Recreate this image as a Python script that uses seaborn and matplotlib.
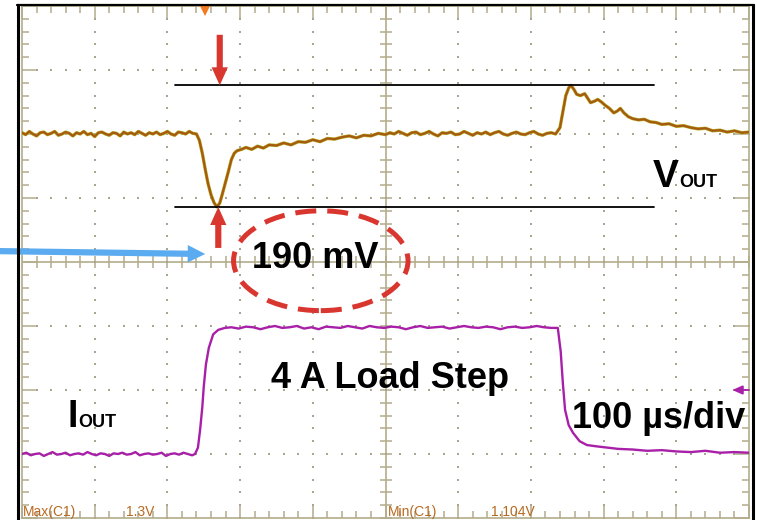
import matplotlib
matplotlib.use("Agg")
import numpy as np
import pandas as pd
import matplotlib.pyplot as plt
from matplotlib.patches import Ellipse
from matplotlib.lines import Line2D
import seaborn as sns

# Scope settings: 100 µs/div over 10 divisions, 8 vertical divisions
TIME_PER_DIV_US = 100
N_XDIV, N_YDIV = 10, 8
VOUT_MV_PER_DIV = 100

# VOUT trace (time in µs, position in divisions)
vout_t = (list(range(0, 241, 5)) +
          [244, 248, 252, 256, 260, 264, 268, 272, 276, 280, 284, 288, 292, 296,
           302, 308, 316, 324, 332, 340, 350, 360, 370, 380, 390, 400, 410, 420,
           430, 440, 450, 460, 470, 480, 490] +
          list(range(500, 737, 6)) +
          [740, 744, 748, 752, 755, 759, 763, 768, 774, 778, 782, 787, 792, 797,
           802, 808, 814, 819, 823, 828, 834, 840, 848, 856, 864, 872, 880, 890,
           900, 910, 920, 930, 940, 950, 960, 970, 980, 990, 1000])
vout_div = [2.02, 1.99, 2.04, 2.00, 1.97, 2.02, 2.03, 1.99, 2.01, 2.04,
            1.98, 2.00, 2.03, 2.01, 1.97, 2.02, 2.00, 2.04, 1.99, 2.01,
            1.96, 2.02, 2.03, 2.00, 1.98, 2.02, 2.01, 1.97, 2.03, 2.00,
            2.02, 1.99, 2.04, 2.01, 1.98, 2.02, 2.00, 2.03, 1.99, 2.01,
            2.04, 2.00, 1.98, 2.03, 2.02, 2.00, 2.04, 2.01, 2.00,
            1.90, 1.70, 1.45, 1.22, 1.05, 0.93, 0.86, 0.92, 1.08, 1.25, 1.42, 1.60, 1.70,
            1.74, 1.76, 1.79, 1.76, 1.81, 1.78, 1.83, 1.82, 1.86, 1.83, 1.88, 1.87, 1.91,
            1.88, 1.93, 1.92, 1.95, 1.97, 1.94, 1.98, 1.97, 2.01,
            1.99, 2.02, 2.00, 2.04, 2.01, 1.98, 2.02, 2.03, 1.99, 2.01,
            2.04, 2.00, 1.97, 2.02, 2.01, 2.03, 1.99, 2.00, 2.04, 2.01,
            1.98, 2.02, 2.00, 2.03, 1.99, 2.02, 2.04, 2.00, 1.98, 2.01,
            2.03, 2.00, 1.99, 2.02, 2.04, 2.00, 1.98, 2.01, 2.02, 2.00,
            2.10, 2.35, 2.60, 2.72, 2.76, 2.70, 2.62, 2.60, 2.63, 2.56, 2.49, 2.51, 2.54,
            2.50, 2.45, 2.40, 2.33, 2.36, 2.40, 2.33, 2.27, 2.24, 2.22, 2.23, 2.19, 2.18,
            2.15, 2.16, 2.12, 2.13, 2.10, 2.08, 2.09, 2.05, 2.06, 2.03, 2.05, 2.02, 2.03]

# IOUT trace (time in µs, position in divisions)
iout_t = (list(range(0, 235, 6)) + [238] +
          [242, 245, 248, 250, 253, 257, 263, 270, 279] +
          list(range(288, 729, 10)) +
          [737, 741, 744, 747, 752, 758, 767, 777, 790, 805, 820, 840, 860, 880, 900,
           920, 940, 960, 980, 1000])
iout_div = [-3.00, -2.98, -3.02, -3.00, -2.99, -3.03, -3.00, -2.97, -3.01, -3.00,
            -2.98, -3.02, -3.00, -2.99, -3.01, -2.97, -3.00, -3.02, -2.99, -3.00,
            -3.03, -2.99, -3.00, -2.98, -3.01, -3.00, -2.97, -3.02, -3.00, -2.99,
            -3.01, -3.00, -2.98, -3.03, -3.00, -2.99, -3.01, -2.98, -3.00, -3.02,
            -3.00,
            -2.90, -2.62, -2.27, -1.95, -1.60, -1.34, -1.13, -1.06, -1.03,
            -1.02, -1.04, -1.01, -1.02, -1.05, -1.02, -1.00, -1.03, -1.02, -1.00, -1.04,
            -1.02, -1.05, -1.01, -1.02, -1.03, -1.00, -1.02, -1.04, -1.00, -1.02, -1.03,
            -1.01, -1.02, -1.05, -1.02, -1.00, -1.03, -1.02, -1.01, -1.04, -1.02, -1.00,
            -1.02, -1.03, -1.01, -1.02, -1.05, -1.02, -1.01, -1.03, -1.02, -1.00, -1.02,
            -1.03,
            -1.03, -1.40, -1.90, -2.31, -2.55, -2.67, -2.80, -2.86, -2.88, -2.90, -2.92,
            -2.93, -2.95, -2.94, -2.96, -2.97, -2.95, -2.98, -2.97, -2.98]

# Undershoot level and the 190 mV band above it
vout_min_div = 0.86
band_mv = 190
vout_max_div = vout_min_div + band_mv / VOUT_MV_PER_DIV
trigger_t = 252
ch_marker_div = -2.0

# Measurement readouts along the bottom of the screen
readouts = [("Max(C1)", 0), ("1.3V", 142), ("Min(C1)", 502), ("1.104V", 644)]

TAN = "#b3ab8b"
DOT = "#aaa590"
VOUT_C = "#a65a10"
VOUT_UNDER = "#b4b02a"
IOUT_C = "#a81fa8"
RED = "#d8362f"
BLUE = "#5aabef"

sns.set_theme(style="white")
plt.rcParams["font.family"] = ["Liberation Sans", "DejaVu Sans"]

W, H = 757, 520
fig = plt.figure(figsize=(W / 100, H / 100), dpi=100)
ax = fig.add_axes([22 / W, 2 / H, 727 / W, 512 / H])
xmax = TIME_PER_DIV_US * N_XDIV
ax.set_xlim(0, xmax)
ax.set_ylim(-N_YDIV / 2, N_YDIV / 2)

# Graticule: edge ticks pointing inward
ax.set_xticks(np.arange(0, xmax + 1, TIME_PER_DIV_US))
ax.set_xticks(np.arange(0, xmax + 1, TIME_PER_DIV_US / 5), minor=True)
ax.set_yticks(np.arange(-4, 5, 1))
ax.set_yticks(np.arange(-4, 4.01, 0.2), minor=True)
ax.tick_params(axis="both", which="both", direction="in", colors=TAN,
               labelbottom=False, labelleft=False, top=True, right=True,
               bottom=True, left=True, width=1.1)
ax.tick_params(axis="x", which="major", length=9)
ax.tick_params(axis="x", which="minor", length=5)
ax.tick_params(axis="y", which="major", length=11)
ax.tick_params(axis="y", which="minor", length=5)
for s in ax.spines.values():
    s.set_color(TAN)
    s.set_linewidth(1.2)
ax.grid(False)

# Dotted division lines
xs_major = [x for x in np.arange(TIME_PER_DIV_US, xmax, TIME_PER_DIV_US) if x != xmax / 2]
ys_minor = np.arange(-4, 4.01, 0.2)
gx = np.repeat(xs_major, len(ys_minor))
gy = np.tile(ys_minor, len(xs_major))
ax.scatter(gx, gy, s=3.0, marker="s", linewidths=0, color=DOT, zorder=2)
ys_major = [y for y in range(-3, 4) if y != 0]
xs_minor = np.arange(0, xmax + 1, TIME_PER_DIV_US / 5)
hx = np.tile(xs_minor, len(ys_major))
hy = np.repeat(ys_major, len(xs_minor))
ax.scatter(hx, hy, s=3.0, marker="s", linewidths=0, color=DOT, zorder=2)

# Centre cross with minor ticks
ax.axhline(0, color=TAN, lw=1.2, zorder=1)
ax.axvline(xmax / 2, color=TAN, lw=1.2, zorder=1)
ax.plot(xs_minor, np.zeros_like(xs_minor), ls="", marker="|", ms=9, mew=1.1, color=TAN, zorder=1)
ax.plot(np.full_like(ys_minor, xmax / 2), ys_minor, ls="", marker="_", ms=9, mew=1.1, color=TAN, zorder=1)

# Traces
vout = pd.DataFrame({"t": vout_t, "v": vout_div})
iout = pd.DataFrame({"t": iout_t, "v": iout_div})
sns.lineplot(data=vout, x="t", y="v", ax=ax, color=VOUT_UNDER, lw=2.4, zorder=3)
sns.lineplot(data=vout, x="t", y="v", ax=ax, color=VOUT_C, lw=1.6, zorder=4)
sns.lineplot(data=iout, x="t", y="v", ax=ax, color=IOUT_C, lw=1.7, zorder=4)
ax.set_xlabel("")
ax.set_ylabel("")

# Trigger position and channel marker
ax.plot([trigger_t], [N_YDIV / 2], marker="v", ms=14, color="#f27a20", mew=0, zorder=5)
ax.annotate("", xy=(xmax - 23, ch_marker_div), xytext=(xmax, ch_marker_div),
            arrowprops=dict(arrowstyle="-|>,head_length=0.5,head_width=0.22",
                            color=IOUT_C, lw=1.3, shrinkA=0, shrinkB=0))

# 190 mV band markers
band_x0, band_x1 = 210, 870
ax.plot([band_x0, band_x1], [vout_max_div, vout_max_div], color="black", lw=1.3, zorder=5)
ax.plot([band_x0, band_x1], [vout_min_div, vout_min_div], color="black", lw=1.3, zorder=5)
arr = dict(arrowstyle="simple,head_width=0.45,head_length=0.5,tail_width=0.17",
           mutation_scale=26, color=RED, lw=0, shrinkA=0, shrinkB=0)
ax.annotate("", xy=(272, vout_max_div), xytext=(272, 3.55), arrowprops=arr, zorder=6)
ax.annotate("", xy=(270, vout_min_div), xytext=(270, 0.22), arrowprops=arr, zorder=6)

blue = ax.annotate("", xy=(252, 0.125), xytext=(-31, 0.17), annotation_clip=False,
                   arrowprops=dict(arrowstyle="simple,head_width=0.45,head_length=0.45,tail_width=0.16",
                                   mutation_scale=28, color=BLUE, lw=0, shrinkA=0, shrinkB=0),
                   zorder=6)
blue.arrow_patch.set_clip_on(False)

ax.add_patch(Ellipse((411, 0.02), 240, 1.56, fill=False, edgecolor=RED, lw=3.6,
                     ls=(0, (4.2, 2.2)), zorder=6))

# Annotation text
bold = dict(fontweight="bold", color="black", zorder=7)
ax.text(403, -0.094, f"{band_mv} mV", ha="center", va="baseline", fontsize=26, **bold)
ax.text(506, -1.97, "4 A Load Step", ha="center", va="baseline", fontsize=26, **bold)
ax.text(756, -2.59, f"{TIME_PER_DIV_US} µs/div", ha="left", va="baseline", fontsize=26, **bold)
ax.text(868, 1.17, "V", ha="left", va="baseline", fontsize=28, **bold)
ax.text(904, 1.17, "OUT", ha="left", va="baseline", fontsize=13, **bold)
ax.text(63, -2.58, "I", ha="left", va="baseline", fontsize=27, **bold)
ax.text(77, -2.58, "OUT", ha="left", va="baseline", fontsize=13, **bold)

for label, x in readouts:
    ax.text(x + 1, -3.97, label, ha="left", va="baseline", fontsize=10,
            color="#b8691f", zorder=7)

# Black bezel around the screen
for xs, ys, lw in [([17.5, 17.5], [0, 515], 2.2), ([17, 754], [515, 515], 1.6),
                   ([753, 753], [0, 515], 2.2)]:
    fig.add_artist(Line2D(np.array(xs) / W, np.array(ys) / H, transform=fig.transFigure,
                          color="black", lw=lw))

fig.savefig("out.png", dpi=100)
